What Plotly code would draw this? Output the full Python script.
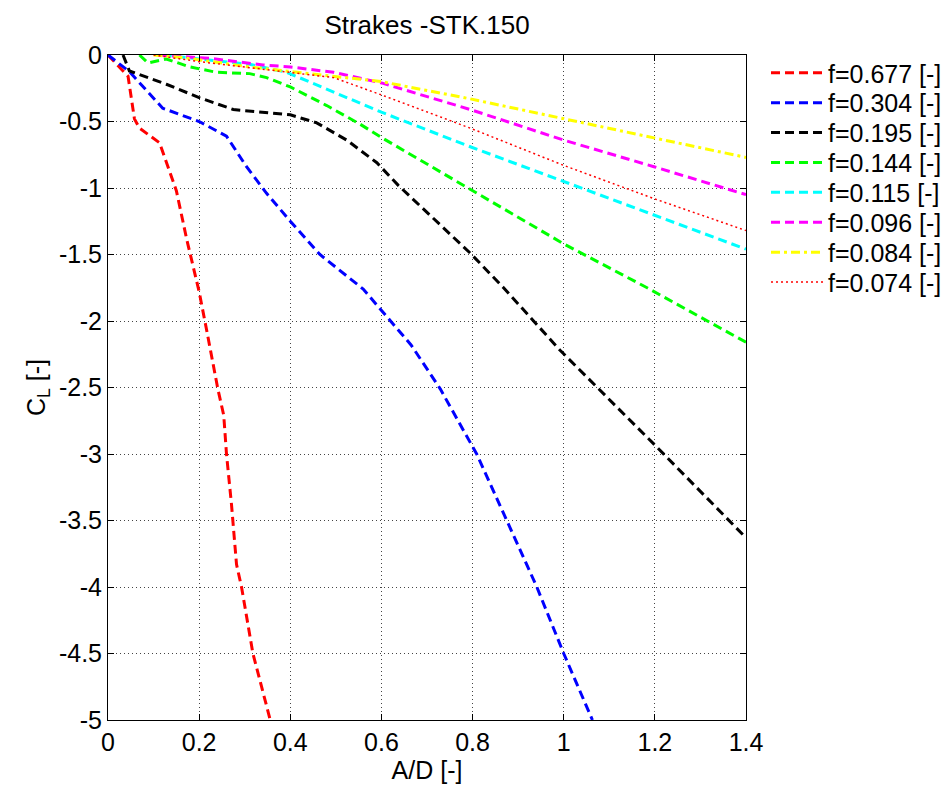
import plotly.graph_objects as go

# ---- data ----
labels = ["f=0.677 [-]", "f=0.304 [-]", "f=0.195 [-]", "f=0.144 [-]",
          "f=0.115 [-]", "f=0.096 [-]", "f=0.084 [-]", "f=0.074 [-]"]

x_677 = [0.0, 0.044, 0.058, 0.069, 0.113, 0.128, 0.15, 0.173, 0.2, 0.216, 0.241, 0.254, 0.26, 0.271, 0.282, 0.293, 0.318, 0.356]
y_677 = [0.0, -0.16, -0.48, -0.55, -0.66, -0.81, -1.02, -1.39, -1.78, -2.06, -2.51, -2.71, -3.0, -3.38, -3.83, -4.0, -4.5, -5.0]

x_304 = [0.0, 0.047, 0.12, 0.2, 0.26, 0.304, 0.348, 0.4, 0.465, 0.524, 0.56, 0.62, 0.665, 0.729, 0.809, 0.875, 0.941, 1.0, 1.063]
y_304 = [0.0, -0.125, -0.40, -0.50, -0.61, -0.84, -1.04, -1.25, -1.5, -1.66, -1.76, -2.0, -2.18, -2.51, -3.0, -3.5, -4.0, -4.5, -5.0]

x_195 = [0.033, 0.047, 0.128, 0.2, 0.275, 0.333, 0.4, 0.458, 0.524, 0.59, 0.637, 0.795, 0.868, 0.992, 1.205, 1.4]
y_195 = [0.0, -0.12, -0.22, -0.32, -0.41, -0.43, -0.45, -0.51, -0.64, -0.81, -0.98, -1.49, -1.75, -2.22, -2.95, -3.63]

x_144 = [0.069, 0.088, 0.128, 0.18, 0.238, 0.311, 0.348, 0.4, 0.48, 0.553, 0.6, 0.795, 1.0, 1.183, 1.4]
y_144 = [0.0, -0.06, -0.03, -0.09, -0.13, -0.14, -0.17, -0.24, -0.38, -0.52, -0.62, -1.01, -1.42, -1.75, -2.16]

x_115 = [0.12, 0.2, 0.311, 0.392, 0.495, 0.6, 0.795, 1.0, 1.198, 1.4]
y_115 = [0.0, -0.03, -0.07, -0.13, -0.28, -0.43, -0.69, -0.95, -1.2, -1.46]

x_096 = [0.11, 0.223, 0.26, 0.34, 0.4, 0.495, 0.6, 0.795, 1.0, 1.198, 1.4]
y_096 = [0.0, -0.025, -0.04, -0.075, -0.09, -0.13, -0.21, -0.41, -0.64, -0.84, -1.05]

x_084 = [0.1, 0.165, 0.311, 0.421, 0.6, 0.795, 1.0, 1.198, 1.4]
y_084 = [0.0, -0.02, -0.09, -0.13, -0.2, -0.33, -0.48, -0.62, -0.77]

x_074 = [0.1, 0.2, 0.348, 0.495, 0.6, 0.795, 1.0, 1.198, 1.4]
y_074 = [0.0, -0.05, -0.11, -0.17, -0.30, -0.55, -0.83, -1.08, -1.32]

x_ticks = [0, 0.2, 0.4, 0.6, 0.8, 1, 1.2, 1.4]
x_tick_text = ["0", "0.2", "0.4", "0.6", "0.8", "1", "1.2", "1.4"]
y_ticks = [0, -0.5, -1, -1.5, -2, -2.5, -3, -3.5, -4, -4.5, -5]
y_tick_text = ["0", "-0.5", "-1", "-1.5", "-2", "-2.5", "-3", "-3.5", "-4", "-4.5", "-5"]

series = [
    (x_677, y_677, "#ff0000", "9px,5px", 3),
    (x_304, y_304, "#0000ff", "9px,5px", 3),
    (x_195, y_195, "#000000", "9px,5px", 3),
    (x_144, y_144, "#00ff00", "9px,5px", 3),
    (x_115, y_115, "#00ffff", "9px,5px", 3),
    (x_096, y_096, "#ff00ff", "9px,5px", 3),
    (x_084, y_084, "#ffff00", "9px,4px,3px,4px", 3),
    (x_074, y_074, "#ff0000", "2px,3px", 1.5),
]

FONT = "Arial, Liberation Sans, Helvetica, sans-serif"
W, H = 952, 787
ML, MR, MT, MB = 108, 206, 55, 67
PW, PH = W - ML - MR, H - MT - MB

fig = go.Figure()
legend_layout = {}
for i, ((xs, ys, col, dash, w), name) in enumerate(zip(series, labels)):
    key = "legend" if i == 0 else f"legend{i + 1}"
    fig.add_trace(go.Scatter(x=xs, y=ys, mode="lines", name=name, legend=key,
                             line=dict(color=col, dash=dash, width=w)))
    center_px = 73 + 29.9 * i
    legend_layout[key] = dict(
        x=(766 - ML) / PW, xanchor="left",
        y=1 - (center_px - MT) / PH, yanchor="middle",
        bgcolor="rgba(255,255,255,0)", borderwidth=0,
        font=dict(family=FONT, size=25, color="black"),
        itemwidth=52,
    )

axis_common = dict(
    showgrid=True, gridcolor="#444444", griddash="1px,3px", gridwidth=1,
    showline=True, linecolor="black", linewidth=1, mirror="ticks",
    ticks="inside", ticklen=6, tickcolor="black", zeroline=False,
    tickfont=dict(family=FONT, size=25, color="black"),
)

fig.update_xaxes(range=[0, 1.4], tickvals=x_ticks, ticktext=x_tick_text,
                 title=dict(text="A/D [-]", font=dict(family=FONT, size=25, color="black"), standoff=0),
                 **axis_common)
fig.update_yaxes(range=[-5, 0], tickvals=y_ticks, ticktext=y_tick_text,
                 title=dict(text="C<sub>L</sub> [-]", font=dict(family=FONT, size=25, color="black"), standoff=6),
                 **axis_common)

fig.update_layout(
    width=W, height=H,
    margin=dict(l=ML, r=MR, t=MT, b=MB, autoexpand=False),
    paper_bgcolor="white", plot_bgcolor="white",
    title=dict(text="Strakes -STK.150", x=427 / W, xanchor="center", y=1 - 25 / H, yanchor="middle",
               font=dict(family=FONT, size=26, color="black")),
    font=dict(family=FONT, size=25, color="black"),
    showlegend=True,
    **legend_layout,
)

fig.write_html("out.html")
